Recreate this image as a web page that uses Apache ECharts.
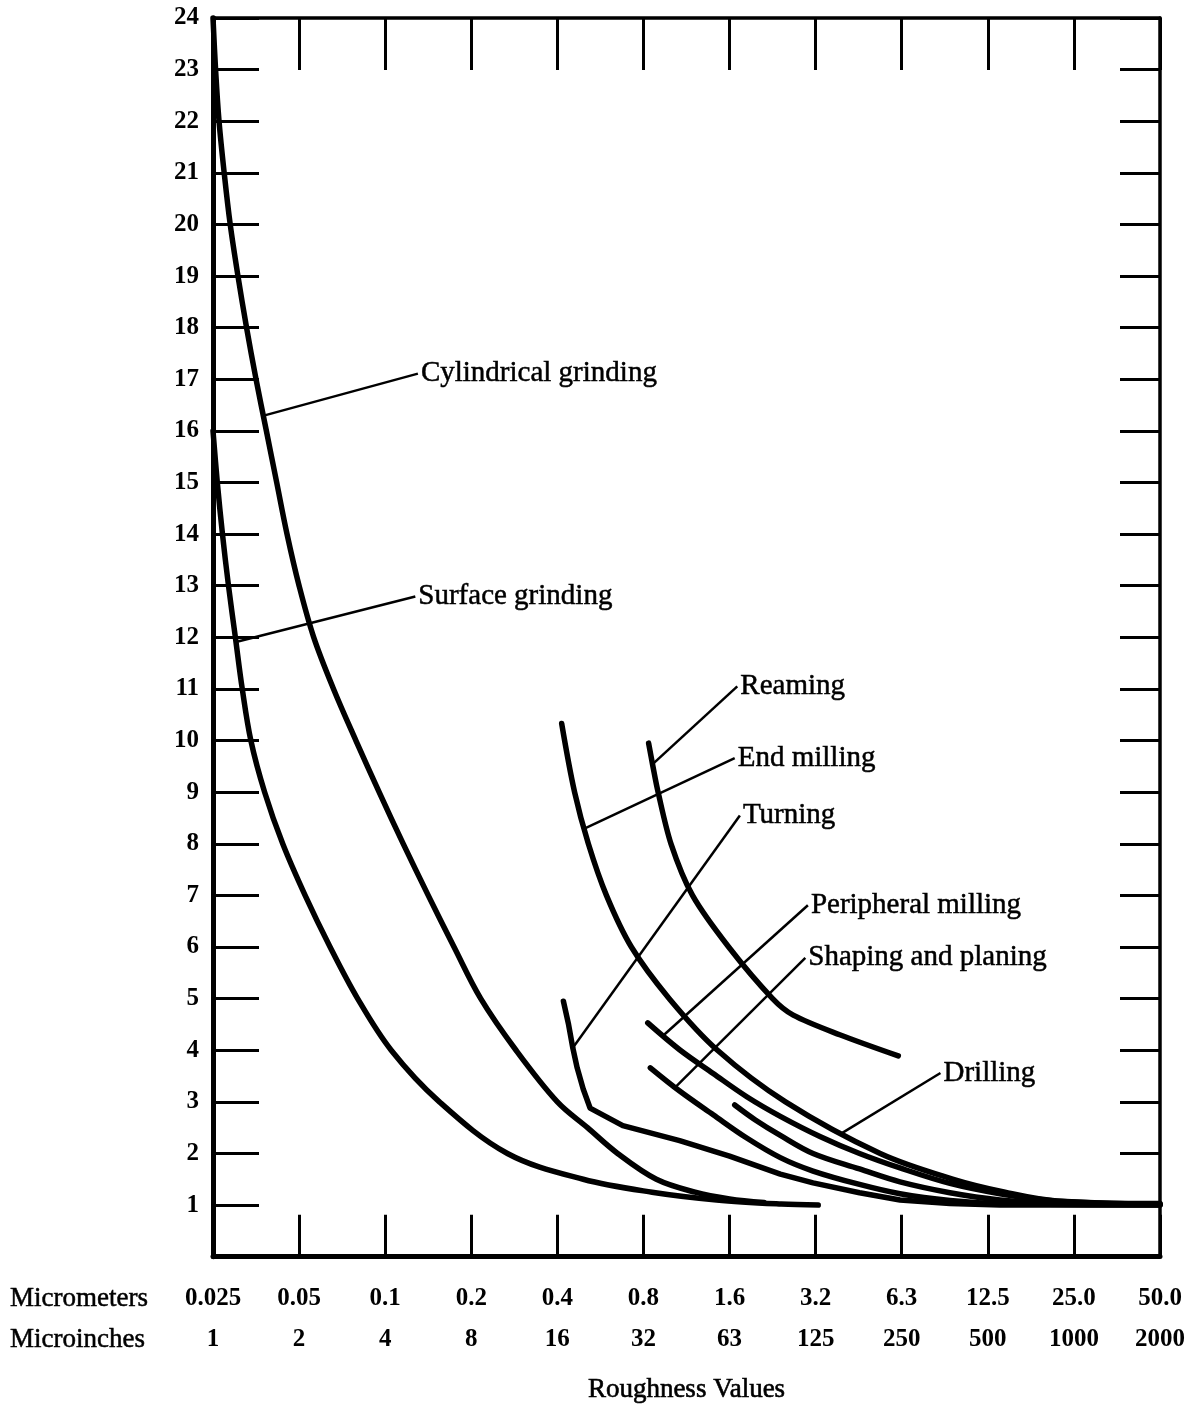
<!DOCTYPE html>
<html>
<head>
<meta charset="utf-8">
<script src="https://cdn.jsdelivr.net/npm/echarts@6/dist/echarts.min.js"></script>
<style>
  html, body { margin: 0; padding: 0; background: #fff; }
  #chart { width: 1193px; height: 1409px; }
</style>
</head>
<body>
<div id="chart"></div>
<script>
// Roughness scale: category index 0..11 on the horizontal axis
const micrometers = ['0.025', '0.05', '0.1', '0.2', '0.4', '0.8', '1.6', '3.2', '6.3', '12.5', '25.0', '50.0'];
const microinches = ['1', '2', '4', '8', '16', '32', '63', '125', '250', '500', '1000', '2000'];
const yRange = [0, 24];

// Relative cost curves: [roughness index, relative value]
const cylindricalGrinding = [[0, 24], [0.03, 23], [0.07, 22], [0.13, 21], [0.2, 20], [0.29, 19], [0.39, 18], [0.5, 17], [0.62, 16], [0.74, 15], [0.86, 14], [1.0, 13], [1.17, 12], [1.4, 11], [1.66, 10], [1.93, 9], [2.21, 8], [2.5, 7], [2.8, 6], [3.11, 5], [3.52, 4], [4.0, 3], [4.35, 2.5], [4.7, 2.0], [5.15, 1.5], [5.6, 1.25], [6.0, 1.12], [6.4, 1.05]];
const surfaceGrinding = [[0, 16], [0.05, 15], [0.11, 14], [0.18, 13], [0.26, 12], [0.34, 11], [0.44, 10], [0.6, 9], [0.81, 8], [1.07, 7], [1.36, 6], [1.68, 5], [2.07, 4], [2.63, 3], [3.42, 2], [4.3, 1.5], [5.1, 1.25], [5.85, 1.1], [6.6, 1.02], [7.03, 1.0]];
const reaming = [[5.06, 9.95], [5.11, 9.5], [5.17, 9], [5.32, 8], [5.57, 7], [5.99, 6], [6.5, 5], [6.74, 4.68], [7.28, 4.3], [7.96, 3.89]];
const endMilling = [[4.05, 10.33], [4.2, 9], [4.36, 8], [4.57, 7], [4.86, 6], [5.3, 5], [5.86, 4], [6.65, 3], [7.75, 2], [8.6, 1.5], [9.2, 1.25], [9.8, 1.08], [11, 1.03]];
const turning = [[4.07, 4.95], [4.13, 4.5], [4.18, 4.04], [4.23, 3.66], [4.3, 3.25], [4.38, 2.88], [4.76, 2.54], [5.42, 2.25], [6.0, 1.95], [6.59, 1.6], [6.97, 1.43], [7.51, 1.24], [7.98, 1.1], [8.56, 1.03], [9.14, 1.0], [11, 1.0]];
const peripheralMilling = [[5.05, 4.53], [5.42, 4.01], [5.81, 3.55], [6.2, 3.1], [6.59, 2.72], [7.05, 2.33], [7.51, 2.0], [7.98, 1.72], [8.56, 1.42], [9.14, 1.22], [9.72, 1.09], [10.3, 1.04], [11, 1.01]];
const shapingPlaning = [[5.08, 3.66], [5.42, 3.21], [5.81, 2.75], [6.2, 2.3], [6.59, 1.92], [6.97, 1.66], [7.51, 1.4], [7.98, 1.22], [8.56, 1.09], [9.14, 1.03], [11, 1.0]];
const drilling = [[6.06, 2.94], [6.3, 2.65], [6.59, 2.35], [6.97, 2.0], [7.51, 1.7], [7.98, 1.45], [8.56, 1.24], [9.14, 1.1], [9.72, 1.04], [11, 1.02]];

// Callout leaders: point on the curve -> point where the caption starts
const callouts = [
  { text: 'Cylindrical grinding', from: [0.6, 16.3], to: [2.38, 17.11] },
  { text: 'Surface grinding', from: [0.29, 11.92], to: [2.35, 12.79] },
  { text: 'Reaming', from: [5.11, 9.55], to: [6.09, 11.05] },
  { text: 'End milling', from: [4.32, 8.3], to: [6.06, 9.66] },
  { text: 'Turning', from: [4.18, 4.05], to: [6.12, 8.55] },
  { text: 'Peripheral milling', from: [5.24, 4.3], to: [6.91, 6.81] },
  { text: 'Shaping and planing', from: [5.38, 3.3], to: [6.88, 5.79] },
  { text: 'Drilling', from: [7.31, 2.4], to: [8.45, 3.56] }
];

const SERIF = '"Liberation Serif", "Times New Roman", serif';
const INK = '#000';

const curves = [
  ['Cylindrical grinding', cylindricalGrinding, 0.35],
  ['Surface grinding', surfaceGrinding, 0.35],
  ['Reaming', reaming, 0.3],
  ['End milling', endMilling, 0.35],
  ['Turning', turning, 0],
  ['Peripheral milling', peripheralMilling, 0.35],
  ['Shaping and planing', shapingPlaning, 0.35],
  ['Drilling', drilling, 0.35]
];

const series = curves.map(([name, data, smooth]) => ({
  name,
  type: 'line',
  data,
  smooth,
  symbol: 'none',
  lineStyle: { color: INK, width: 5.5, cap: 'round', join: 'round' },
  z: 3
}));

callouts.forEach(c => {
  series.push({
    type: 'line',
    data: [c.from, c.to],
    symbol: 'none',
    lineStyle: { color: INK, width: 2.5 },
    z: 2
  });
});

series.push({
  type: 'scatter',
  data: callouts.map(c => ({ value: c.to, name: c.text })),
  symbolSize: 0,
  itemStyle: { opacity: 1 },
  label: {
    show: true,
    position: 'right',
    distance: 3,
    formatter: p => p.name,
    fontFamily: SERIF,
    fontSize: 29,
    color: INK,
    opacity: 1,
    textBorderColor: INK,
    textBorderWidth: 0.5
  },
  z: 4
});

const frame = w => ({ show: true, onZero: false, lineStyle: { color: INK, width: w } });
const ticks = len => ({ show: true, inside: true, length: len, lineStyle: { color: INK, width: 3 } });
const numberStyle = { fontFamily: SERIF, fontSize: 25, fontWeight: 'bold', color: INK };

const chart = echarts.init(document.getElementById('chart'), null, { renderer: 'canvas' });
chart.setOption({
  animation: false,
  backgroundColor: '#fff',
  grid: { left: 213, right: 33, top: 18, bottom: 151 },
  xAxis: [
    {
      type: 'value', min: 0, max: 11, interval: 1, position: 'bottom',
      axisLine: frame(5), axisTick: ticks(42), splitLine: { show: false },
      axisLabel: Object.assign({ margin: 29, formatter: v => micrometers[v] }, numberStyle),
      name: 'Roughness Values', nameLocation: 'middle', nameGap: 120,
      nameTextStyle: { fontFamily: SERIF, fontSize: 27, color: INK, textBorderColor: INK, textBorderWidth: 0.6 }
    },
    {
      type: 'value', min: 0, max: 11, interval: 1, position: 'bottom',
      axisLine: { show: false, onZero: false }, axisTick: { show: false }, splitLine: { show: false },
      axisLabel: Object.assign({ margin: 70, formatter: v => microinches[v] }, numberStyle)
    },
    {
      type: 'value', min: 0, max: 11, interval: 1, position: 'top',
      axisLine: frame(3.5), axisTick: ticks(52), splitLine: { show: false },
      axisLabel: { show: false }
    }
  ],
  yAxis: [
    {
      type: 'value', min: yRange[0], max: yRange[1], interval: 1, position: 'left',
      axisLine: frame(5), axisTick: ticks(46), splitLine: { show: false },
      axisLabel: Object.assign({ margin: 14, formatter: v => (v === 0 ? '' : String(v)) }, numberStyle)
    },
    {
      type: 'value', min: yRange[0], max: yRange[1], interval: 1, position: 'right',
      axisLine: frame(3.5), axisTick: ticks(40), splitLine: { show: false },
      axisLabel: { show: false }
    }
  ],
  graphic: [
    { type: 'text', x: 10, y: 1299, style: { text: 'Micrometers', fontFamily: SERIF, fontSize: 27, fill: INK, stroke: INK, lineWidth: 0.5, verticalAlign: 'middle' } },
    { type: 'text', x: 10, y: 1340, style: { text: 'Microinches', fontFamily: SERIF, fontSize: 27, fill: INK, stroke: INK, lineWidth: 0.5, verticalAlign: 'middle' } }
  ],
  series
});
</script>
</body>
</html>
